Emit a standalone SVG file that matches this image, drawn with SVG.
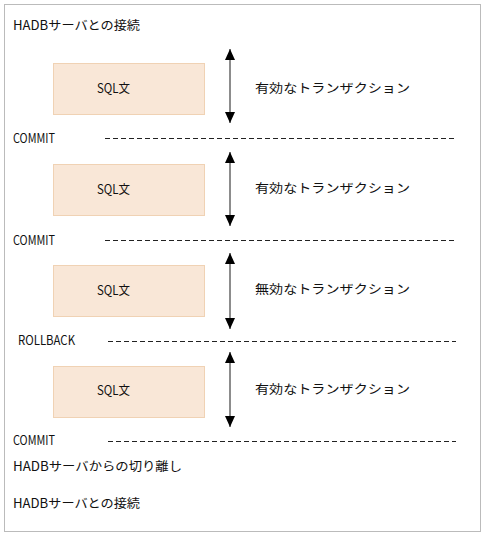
<svg xmlns="http://www.w3.org/2000/svg" width="485" height="536" viewBox="0 0 485 536">
<defs>
<style>
text{font-family:"Noto Sans CJK JP","DejaVu Sans",sans-serif;font-size:12.5px;fill:#111}
.box{fill:#f9e7d7;stroke:#f0d2b4;stroke-width:1}
.dash{stroke:#222;stroke-width:1;stroke-dasharray:5,3;fill:none}
.arr{stroke:#666;stroke-width:1.5;fill:none;marker-start:url(#ah);marker-end:url(#ah)}
</style>
<marker id="ah" viewBox="0 0 11 10" refX="11" refY="5" markerWidth="11" markerHeight="10" markerUnits="userSpaceOnUse" orient="auto-start-reverse"><path d="M0,0 L11,5 L0,10 Z" fill="#000"/></marker>
</defs>
<rect x="4.5" y="4.5" width="476" height="527" fill="#fff" stroke="#bbb"/>
<g id="connectors">
<line class="arr" x1="230" y1="49" x2="230" y2="123"/>
<line class="arr" x1="230" y1="152" x2="230" y2="226"/>
<line class="arr" x1="230" y1="253" x2="230" y2="329"/>
<line class="arr" x1="230" y1="352" x2="230" y2="427"/>
<line class="dash" x1="105" y1="138.5" x2="456" y2="138.5"/>
<line class="dash" x1="105" y1="240.5" x2="456" y2="240.5"/>
<line class="dash" x1="108" y1="341.5" x2="456" y2="341.5"/>
<line class="dash" x1="108" y1="441.5" x2="456" y2="441.5"/>
</g>
<g id="title"><text x="13" y="30" textLength="127" lengthAdjust="spacingAndGlyphs">HADBサーバとの接続</text></g>
<g id="sql1"><rect class="box" x="53.5" y="63.5" width="151" height="51"/><text x="97" y="93" textLength="33" lengthAdjust="spacingAndGlyphs">SQL文</text></g>
<g id="tx1"><text x="255" y="93" textLength="155" lengthAdjust="spacingAndGlyphs">有効なトランザクション</text></g>
<g id="commit1"><text x="13" y="143" textLength="42" lengthAdjust="spacingAndGlyphs">COMMIT</text></g>
<g id="sql2"><rect class="box" x="53.5" y="164.5" width="151" height="51"/><text x="97" y="194" textLength="33" lengthAdjust="spacingAndGlyphs">SQL文</text></g>
<g id="tx2"><text x="255" y="193" textLength="155" lengthAdjust="spacingAndGlyphs">有効なトランザクション</text></g>
<g id="commit2"><text x="13" y="245" textLength="42" lengthAdjust="spacingAndGlyphs">COMMIT</text></g>
<g id="sql3"><rect class="box" x="53.5" y="265.5" width="151" height="51"/><text x="97" y="295" textLength="33" lengthAdjust="spacingAndGlyphs">SQL文</text></g>
<g id="tx3"><text x="255" y="294" textLength="155" lengthAdjust="spacingAndGlyphs">無効なトランザクション</text></g>
<g id="rollback"><text x="18" y="345" textLength="57" lengthAdjust="spacingAndGlyphs">ROLLBACK</text></g>
<g id="sql4"><rect class="box" x="53.5" y="366.5" width="151" height="51"/><text x="97" y="395" textLength="33" lengthAdjust="spacingAndGlyphs">SQL文</text></g>
<g id="tx4"><text x="255" y="394" textLength="155" lengthAdjust="spacingAndGlyphs">有効なトランザクション</text></g>
<g id="commit3"><text x="13" y="445" textLength="42" lengthAdjust="spacingAndGlyphs">COMMIT</text></g>
<g id="disconnect"><text x="13" y="471" textLength="169" lengthAdjust="spacingAndGlyphs">HADBサーバからの切り離し</text></g>
<g id="connect2"><text x="13" y="508" textLength="127" lengthAdjust="spacingAndGlyphs">HADBサーバとの接続</text></g>
</svg>
